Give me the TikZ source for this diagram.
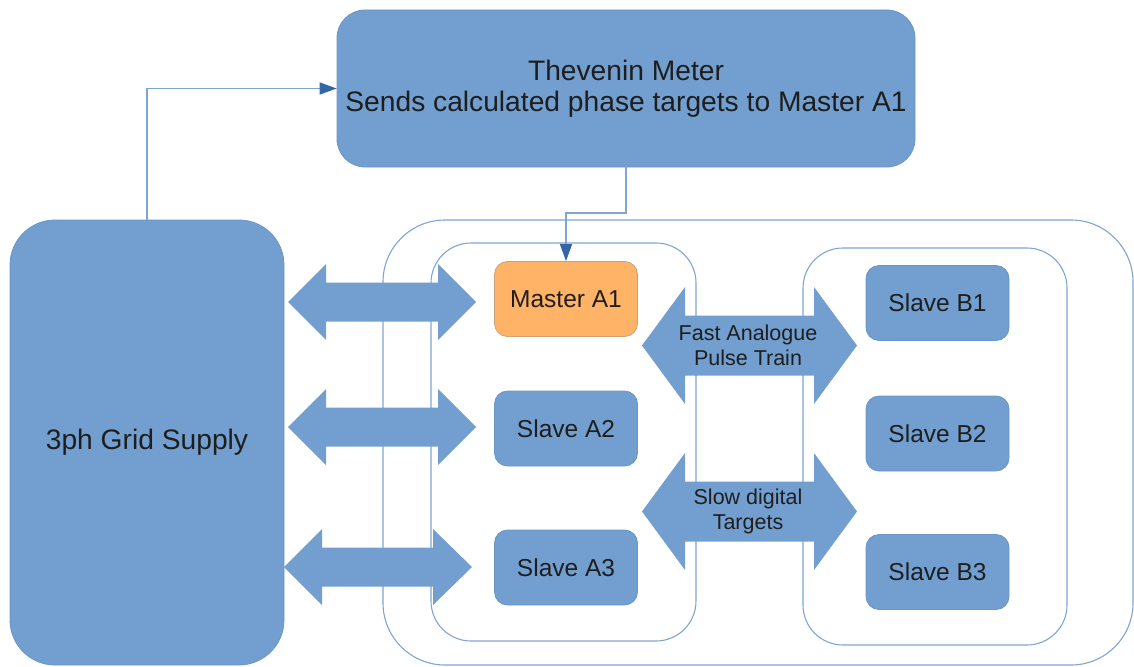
\documentclass[tikz,border=0pt]{standalone}
\usepackage{fontspec}
\setmainfont{Liberation Sans}
\usetikzlibrary{arrows.meta}
\definecolor{boxblue}{HTML}{729FCF}
\definecolor{boxedge}{HTML}{6A96C7}
\definecolor{lineblue}{HTML}{7FA5D2}
\definecolor{tipblue}{HTML}{3465A4}
\definecolor{orangefill}{HTML}{FFB366}
\definecolor{orangeedge}{HTML}{C9A27A}
\definecolor{txt}{HTML}{1E1E1E}
\tikzset{
  box/.style={draw=boxedge, line width=0.8pt, fill=boxblue, rounded corners=13pt,
    text=txt, font=\fontsize{24.5}{28}\selectfont, minimum width=143pt,
    minimum height=75pt, inner sep=0pt, align=center},
  masterbox/.style={box, fill=orangefill, draw=orangeedge},
  bigbox/.style={draw=boxedge, line width=0.8pt, fill=boxblue, text=txt,
    font=\fontsize{28.2}{31.5}\selectfont, inner sep=0pt, align=center},
  container/.style={draw=lineblue, line width=1.1pt, rounded corners=#1},
  conn/.style={draw=lineblue, line width=1.4pt,
    -{Triangle[length=17pt,width=12pt,color=tipblue]}},
  blockarrow/.style={fill=boxblue},
  arrowlabel/.style={text=txt, font=\fontsize{21.5}{24.5}\selectfont, align=center, inner sep=0pt},
}
\newcommand{\dblarrow}[7]{%
  \fill[blockarrow] (#1,#5) -- (#2,#5-#6) -- (#2,#5-#7) -- (#3,#5-#7) -- (#3,#5-#6)
    -- (#4,#5) -- (#3,#5+#6) -- (#3,#5+#7) -- (#2,#5+#7) -- (#2,#5+#6) -- cycle;}
\begin{document}
\begin{tikzpicture}[x=1pt, y=-1pt]
\useasboundingbox (0,0) rectangle (1134,666);

% main boxes
\node[bigbox, rounded corners=28pt, minimum width=578pt, minimum height=157pt]
  (thev) at (626,88.5) {Thevenin Meter\\Sends calculated phase targets to Master A1};
\node[bigbox, rounded corners=45pt, minimum width=274pt, minimum height=445pt]
  (grid) at (147,442.5) {3ph Grid Supply};

% containers
\draw[container=62pt] (383,220) rectangle (1133,665);
\draw[container=40pt] (431,243) rectangle (696,641);
\draw[container=40pt] (803,248) rectangle (1067,645);

% inner boxes
\node[masterbox] (master) at (566,299) {Master A1};
\node[box] (a2) at (566,428.5) {Slave A2};
\node[box] (a3) at (566,567.5) {Slave A3};
\node[box] (b1) at (937.5,303) {Slave B1};
\node[box] (b2) at (937.5,433.5) {Slave B2};
\node[box] (b3) at (937.5,572) {Slave B3};

% block double arrows
\dblarrow{288}{326}{438}{476}{302}{38}{19.5}
\dblarrow{288}{326}{438}{476}{427}{38}{19.5}
\dblarrow{284}{322}{433}{472}{567}{38}{19.5}
\dblarrow{642}{685}{814}{857}{345.5}{58.5}{30}
\dblarrow{642}{685}{814}{857}{511.5}{58.5}{30}
\node[arrowlabel] (fast) at (748,345.5) {Fast Analogue\\Pulse Train};
\node[arrowlabel] (slow) at (748,511.5) {Slow digital\\Targets};

% connectors
\coordinate (bend) at (566,213);
\draw[conn] (grid.north) |- (thev.west);
\draw[conn] (thev.south) |- (bend) -- (master.north);
\end{tikzpicture}
\end{document}
